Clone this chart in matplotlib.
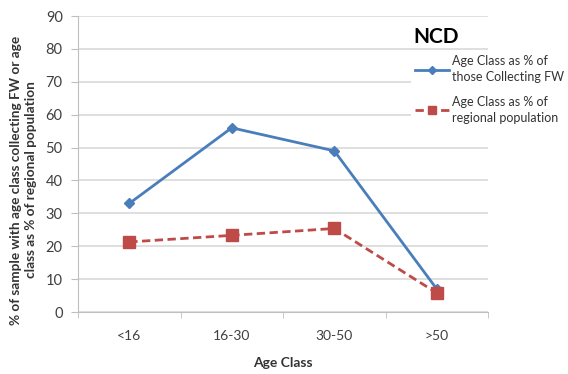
import matplotlib
matplotlib.use("Agg")
import matplotlib.pyplot as plt
from matplotlib.ticker import FixedLocator

plt.rcParams['font.family'] = ['Lato', 'DejaVu Sans']

categories = ["<16", "16-30", "30-50", ">50"]
collecting_fw = [33, 56, 49, 7]
regional_pop = [21.3, 23.3, 25.4, 5.8]
y_ticks = [0, 10, 20, 30, 40, 50, 60, 70, 80, 90]

fig = plt.figure(figsize=(5.68, 3.74), dpi=100)
ax = fig.add_axes([78/568, 62/374, 410/568, 296/374])

x = list(range(len(categories)))
l1, = ax.plot(x, collecting_fw, color="#4a7ebb", lw=2, marker="D", ms=5,
              label="Age Class as % of\nthose Collecting FW", zorder=3)
l2, = ax.plot(x, regional_pop, color="#be4b48", lw=2, ls=(0, (3, 1.6)), marker="s", ms=8,
              label="Age Class as % of\nregional population", zorder=3)

ax.set_xlim(-0.5, 3.5)
ax.set_ylim(0, 90)
ax.set_yticks(y_ticks)
ax.set_xticks(x)
ax.set_xticklabels(categories)
ax.xaxis.set_minor_locator(FixedLocator([-0.5, 0.5, 1.5, 2.5, 3.5]))
ax.tick_params(axis="x", which="major", length=0, pad=13, labelsize=10, colors="#404040")
ax.tick_params(axis="x", which="minor", length=4, color="#bfbfbf", direction="out")
ax.tick_params(axis="y", length=5, color="#bfbfbf", labelsize=10.5, colors="#404040", pad=6)
ax.grid(axis="y", color="#d9d9d9", lw=1.2)
ax.set_axisbelow(True)
for s in ["top", "right"]:
    ax.spines[s].set_visible(False)
ax.spines["left"].set_color("#bfbfbf")
ax.spines["bottom"].set_color("#bfbfbf")

fig.text(283/568, 1 - 363/374, "Age Class", ha="center", va="center",
         fontsize=10, fontweight="bold", color="#333333")
fig.text(24/568, 1 - 180/374,
         "% of sample with age class collecting FW or age\nclass as % of regional population",
         ha="center", va="center", rotation=90, fontsize=9.8, fontweight="bold",
         color="#333333", linespacing=1.3)

fig.text(413/568, 1 - 37/374, "NCD", ha="left", va="center", fontsize=15,
         fontweight="bold", color="#000000")

leg = ax.legend(handles=[l1, l2], loc="upper left", bbox_to_anchor=(405/568, 1 - 45/374),
                bbox_transform=fig.transFigure, frameon=True, facecolor="white",
                edgecolor="none", framealpha=1, fontsize=9, handlelength=2.7,
                handletextpad=0.25, labelspacing=1.0, borderpad=0.3, markerscale=0.75)
for t in leg.get_texts():
    t.set_color("#333333")
    t.set_linespacing(1.4)

fig.savefig("out.png", dpi=100)
